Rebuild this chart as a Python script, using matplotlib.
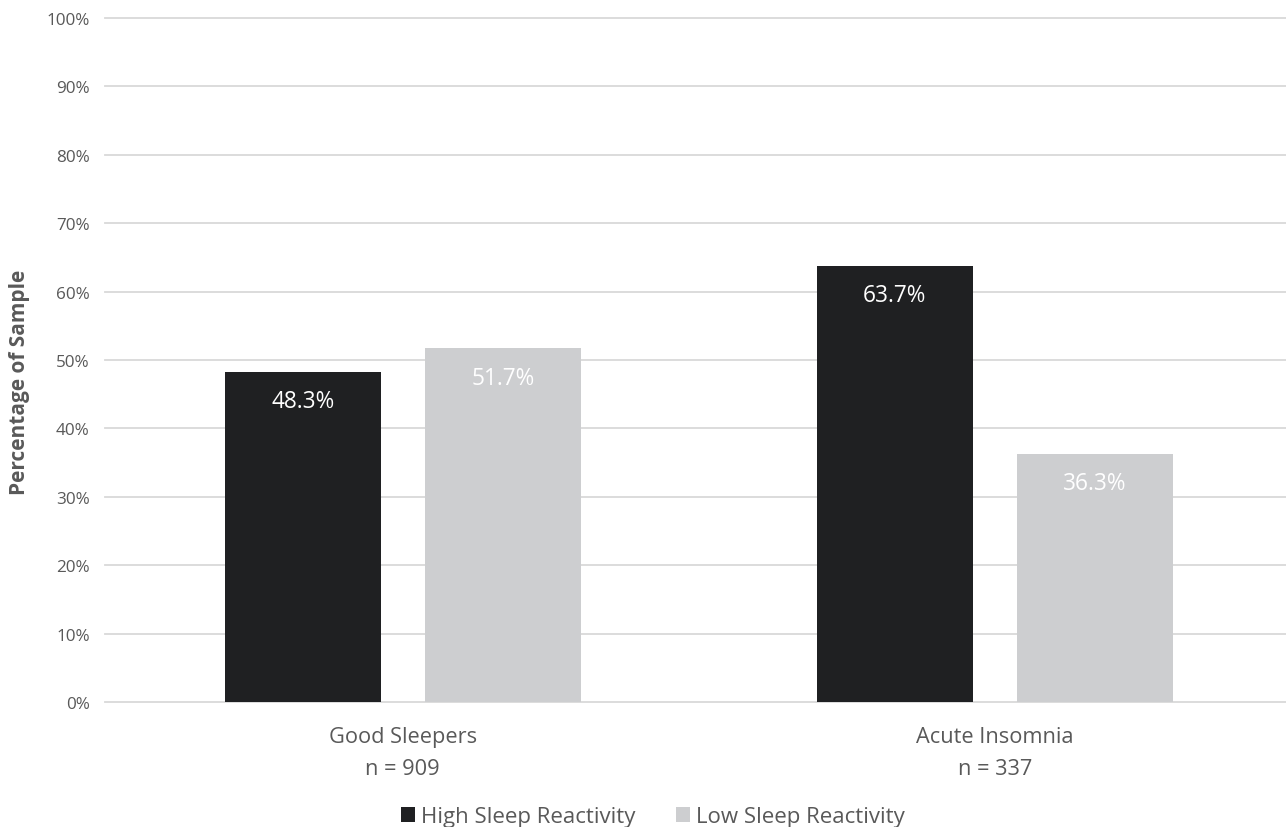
import matplotlib
matplotlib.use("Agg")
import matplotlib.pyplot as plt
from matplotlib.patches import Patch
import numpy as np

# Data
groups = ["Good Sleepers", "Acute Insomnia"]
group_n = [909, 337]
series_names = ["High Sleep Reactivity", "Low Sleep Reactivity"]
high_reactivity = [48.3, 63.7]
low_reactivity = [51.7, 36.3]
y_ticks = [0, 10, 20, 30, 40, 50, 60, 70, 80, 90, 100]

plt.rcParams["font.family"] = ["Open Sans", "DejaVu Sans"]

dark = "#1f2022"
light = "#cdced0"
text_grey = "#595959"
grid_grey = "#d9d9d9"

W, H = 1286, 828
fig = plt.figure(figsize=(W / 100, H / 100), dpi=100)
ax = fig.add_axes([105 / W, (H - 703) / H, (W - 105) / W, (703 - 19) / H])

x = np.arange(len(groups))
width = 0.2635
offset = 0.169

series = [(high_reactivity, dark, -offset), (low_reactivity, light, offset)]
for vals, color, off in series:
    bars = ax.bar(x + off, vals, width=width, color=color, zorder=3)
    for b, v in zip(bars, vals):
        ax.annotate(f"{v:.1f}%", xy=(b.get_x() + b.get_width() / 2, v),
                    xytext=(0, -21), textcoords="offset points",
                    ha="center", va="center", color="white", fontsize=16.3,
                    zorder=4)

ax.set_xlim(-0.503, 1.492)
ax.set_ylim(0, 100)
ax.set_yticks(y_ticks)
ax.set_yticklabels([f"{t}%" for t in y_ticks])
for t in y_ticks:
    ax.axhline(t, color=grid_grey, lw=1.3, zorder=1, clip_on=False)

ax.set_xticks(x)
ax.set_xticklabels([f"{g}\nn = {n}" for g, n in zip(groups, group_n)],
                   linespacing=1.65)

ax.tick_params(axis="y", length=0, pad=11, labelsize=12.3, labelcolor=text_grey)
ax.tick_params(axis="x", length=0, pad=17.5, labelsize=15.7, labelcolor=text_grey)
for s in ax.spines.values():
    s.set_visible(False)

ax.set_ylabel("Percentage of Sample", fontsize=15, fontweight="bold",
              color=text_grey)
ax.yaxis.set_label_coords(-(105 - 30) / (W - 105), (703 - 382) / (703 - 19))

handles = [Patch(facecolor=dark, edgecolor="none"),
           Patch(facecolor=light, edgecolor="none")]
fig.legend(handles, series_names, loc="center", bbox_to_anchor=(653 / W, 1 - 818 / H),
           ncol=2, frameon=False, fontsize=16, handlelength=0.62, handleheight=0.62,
           handletextpad=0.3, columnspacing=1.8, labelcolor=text_grey)

fig.savefig("out.png", dpi=100, facecolor="white")
